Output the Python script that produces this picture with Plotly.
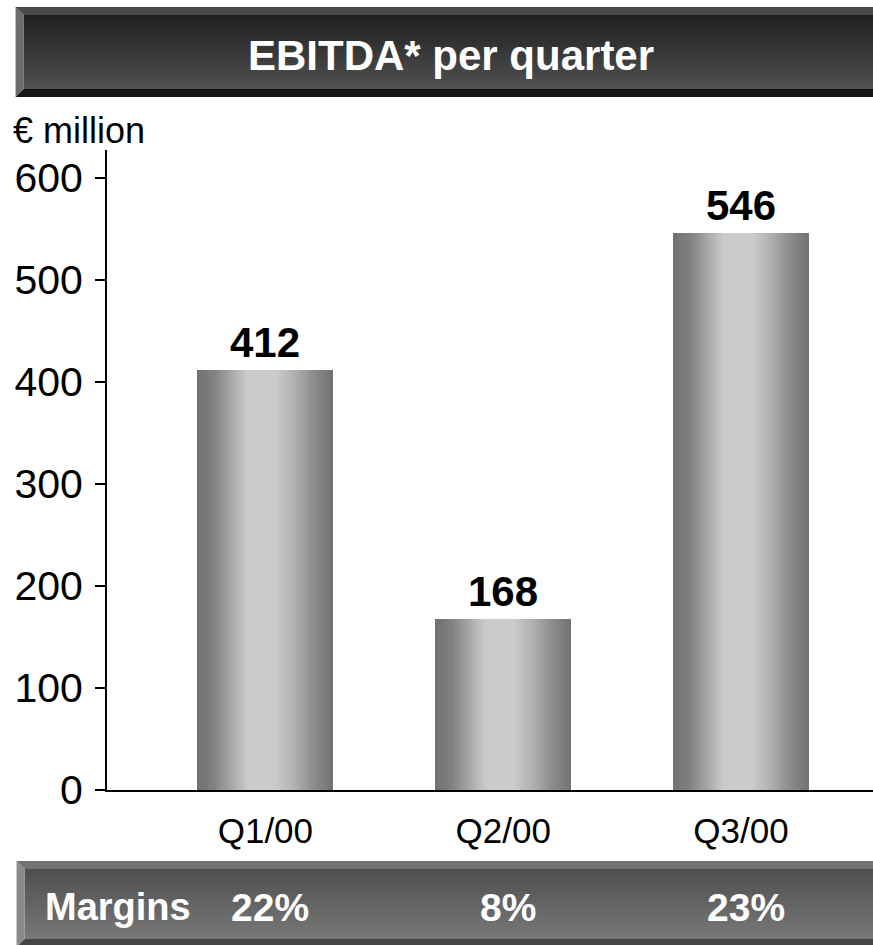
import plotly.graph_objects as go

# EBITDA per quarter, € million
quarters = ["Q1/00", "Q2/00", "Q3/00"]
ebitda = [412, 168, 546]
margins = ["22%", "8%", "23%"]
y_ticks = [0, 100, 200, 300, 400, 500, 600]

W, H = 873, 945
PL, PR, PT, PB = 106.5, 873.0, 150.0, 790.0   # plot area in pixels
FONT = "Liberation Sans, Arial, sans-serif"

BAR_W = 0.571
N_STRIPS = 68
# horizontal grey profile of the cylinder-like bars: (position, grey level)
PROFILE = [(0.0, 0x70), (0.12, 0x80), (0.25, 0xa6), (0.37, 0xcb),
           (0.58, 0xcb), (0.72, 0xb0), (0.86, 0x8c), (1.0, 0x72)]


def grey_at(t):
    for (t0, g0), (t1, g1) in zip(PROFILE, PROFILE[1:]):
        if t <= t1:
            g = g0 + (g1 - g0) * (t - t0) / (t1 - t0)
            return int(round(g))
    return PROFILE[-1][1]


def grey(g):
    return f"rgb({g},{g},{g})"


def px_x(px):
    return (px - PL) / (PR - PL)


def px_y(py):
    return (PB - py) / (PB - PT)


fig = go.Figure()

step = BAR_W / N_STRIPS
for i in range(N_STRIPS):
    t = (i + 0.5) / N_STRIPS
    w = step if i == N_STRIPS - 1 else step * 1.8
    fig.add_trace(go.Bar(
        x=quarters, y=ebitda,
        width=w, offset=-BAR_W / 2 + i * step,
        marker=dict(color=grey(grey_at(t)), line=dict(width=0)),
        showlegend=False, hoverinfo="skip",
    ))

# value labels above each bar
for q, v in zip(quarters, ebitda):
    fig.add_annotation(x=q, y=v, xref="x", yref="y", text=f"<b>{v}</b>",
                       showarrow=False, yanchor="bottom", yshift=2,
                       font=dict(family=FONT, size=42, color="black"))

shapes = []


def band_box(x0, y0, x1, y1, top_col, bottom_col, top_bevel, left_bevel,
             bottom_bevel, bev=8):
    """Bevelled panel with a vertical gradient, pixel coordinates."""
    n = int((y1 - bev) - (y0 + bev))
    for k in range(n):
        t = k / max(n - 1, 1)
        g = int(round(top_col + (bottom_col - top_col) * t))
        ya = y0 + bev + k
        shapes.append(dict(type="rect", xref="paper", yref="paper",
                           x0=px_x(x0 + bev), x1=px_x(x1),
                           y0=px_y(ya + 1.3), y1=px_y(ya),
                           fillcolor=grey(g), line=dict(width=0), layer="below"))

    def poly(pts, col):
        path = "M " + " L ".join(f"{px_x(a)},{px_y(b)}" for a, b in pts) + " Z"
        shapes.append(dict(type="path", xref="paper", yref="paper", path=path,
                           fillcolor=grey(col), line=dict(width=0), layer="below"))

    poly([(x0, y0), (x1, y0), (x1, y0 + bev), (x0 + bev, y0 + bev)], top_bevel)
    poly([(x0, y1), (x0 + bev, y1 - bev), (x1, y1 - bev), (x1, y1)], bottom_bevel)
    poly([(x0, y0), (x0 + bev, y0 + bev), (x0 + bev, y1 - bev), (x0, y1)], left_bevel)


# title panel
band_box(15, 7, 873, 97, 0x20, 0x50, 0x48, 0x6c, 0x16)
# margins panel
band_box(16, 861, 873, 947, 0x4f, 0x78, 0x72, 0x8a, 0x44)

fig.add_annotation(xref="paper", yref="paper", x=px_x(451), y=px_y(55),
                   text="<b>EBITDA* per quarter</b>", showarrow=False,
                   xanchor="center", yanchor="middle",
                   font=dict(family=FONT, size=42, color="white"))

fig.add_annotation(xref="paper", yref="paper", x=px_x(10), y=px_y(130),
                   text="€ million", showarrow=False,
                   xanchor="left", yanchor="middle",
                   font=dict(family=FONT, size=36, color="black"))

fig.add_annotation(xref="paper", yref="paper", x=px_x(42), y=px_y(907),
                   text="<b>Margins</b>", showarrow=False,
                   xanchor="left", yanchor="middle",
                   font=dict(family=FONT, size=38, color="white"))

for q, m in zip(quarters, margins):
    fig.add_annotation(xref="x", yref="paper", x=q, y=px_y(907), text=f"<b>{m}</b>",
                       showarrow=False, xanchor="center", yanchor="middle", xshift=5,
                       font=dict(family=FONT, size=39, color="white"))

fig.update_layout(
    width=W, height=H,
    margin=dict(l=PL, r=W - PR, t=PT, b=H - PB, pad=0),
    paper_bgcolor="white", plot_bgcolor="white",
    barmode="overlay", bargap=0,
    shapes=shapes, showlegend=False,
    font=dict(family=FONT, color="black"),
)

fig.update_xaxes(
    range=[-0.666, 2.555], showline=True, linecolor="black", linewidth=2,
    showgrid=False, zeroline=False, ticks="", tickfont=dict(size=35),
    ticklabelstandoff=9, fixedrange=True,
)
fig.update_yaxes(
    range=[0, 627.45], tickvals=y_ticks, showline=True, linecolor="black",
    linewidth=2, showgrid=False, zeroline=False, ticks="outside", ticklen=10,
    tickwidth=2, tickcolor="black", tickfont=dict(size=41),
    ticklabelstandoff=4, fixedrange=True,
)

fig.write_html("out.html")
